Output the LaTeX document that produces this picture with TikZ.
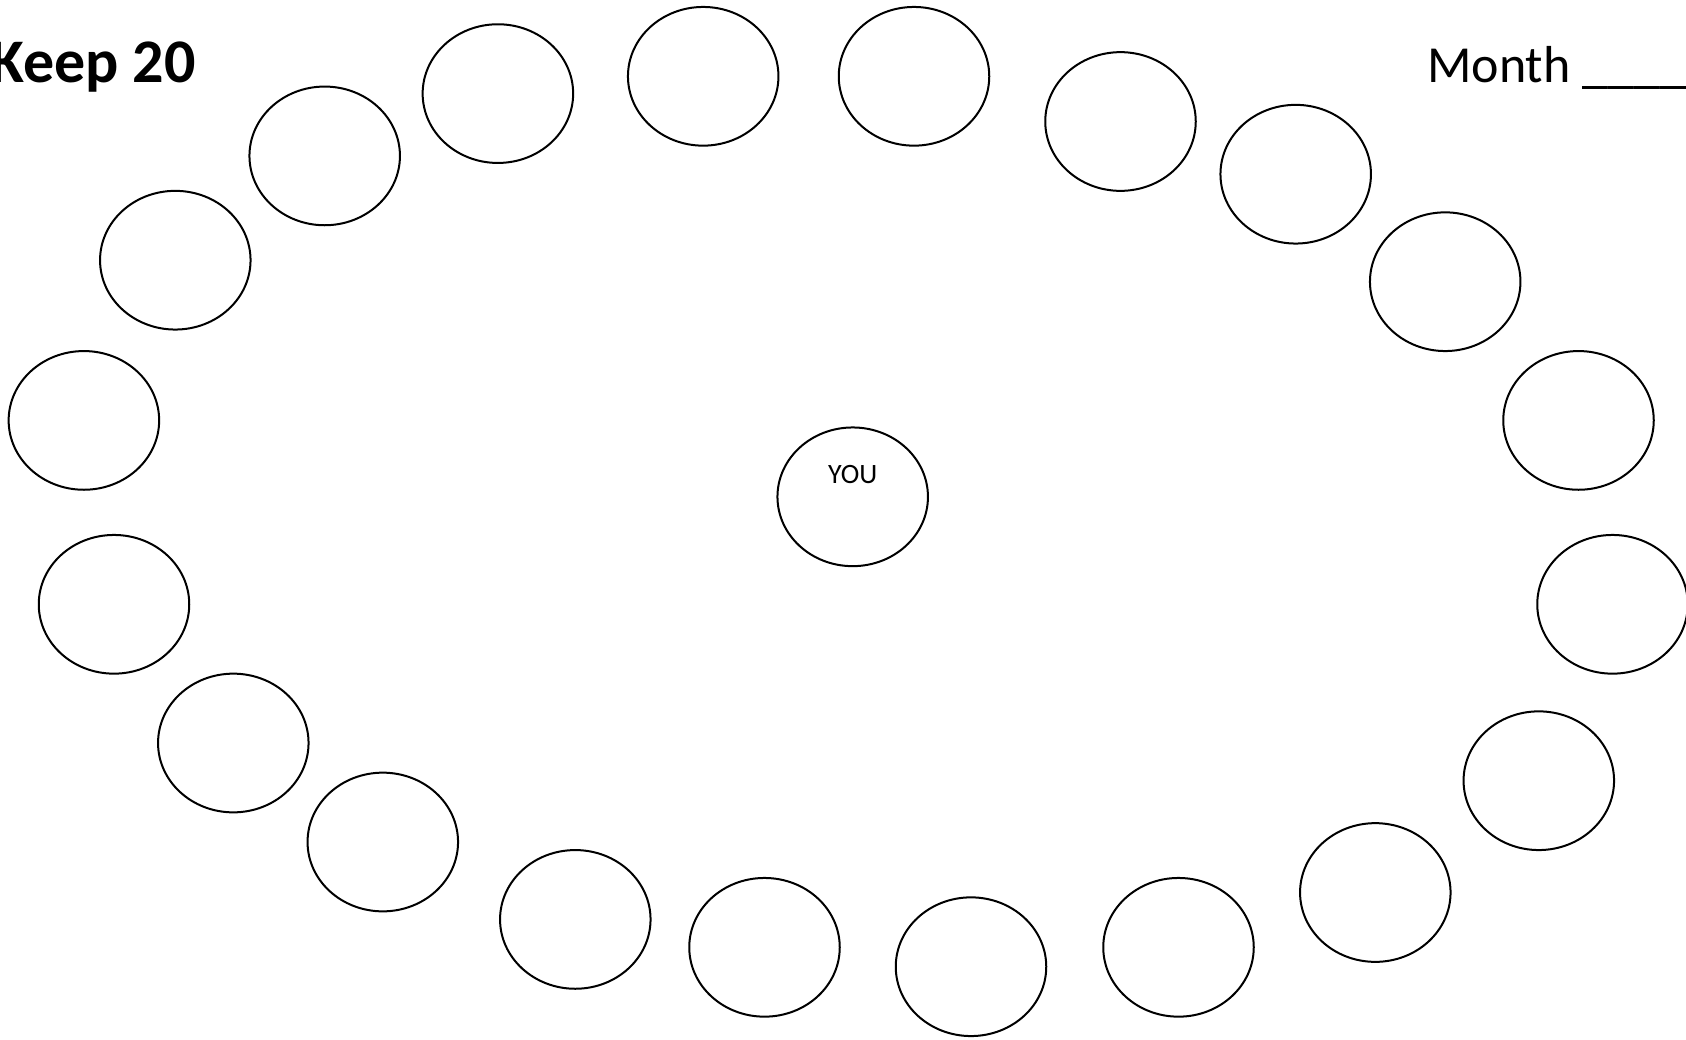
\documentclass[tikz,border=0pt]{standalone}
\usepackage{fontspec}
\setmainfont{Carlito}
\usetikzlibrary{shapes.geometric}
\begin{document}
\begin{tikzpicture}[x=1pt,y=-1pt,
  circ/.style={draw=black, line width=2pt, ellipse, minimum width=150.5pt, minimum height=138.7pt, inner sep=0pt},
  title/.style={inner sep=0pt, font=\fontsize{62}{74}\selectfont\bfseries},
  month/.style={inner sep=0pt, font=\fontsize{52}{62}\selectfont},
  youtext/.style={inner sep=0pt, font=\fontsize{28}{34}\selectfont}]
\useasboundingbox (0,0) rectangle (1686,1039);
\node[circ] (c1) at (497.9,93.6) {};
\node[circ] (c2) at (703.2,76.3) {};
\node[circ] (c3) at (914.0,76.3) {};
\node[circ] (c4) at (1120.5,121.5) {};
\node[circ] (c5) at (1295.7,174.2) {};
\node[circ] (c6) at (1445.2,281.7) {};
\node[circ] (c7) at (1578.5,420.4) {};
\node[circ] (c8) at (1612.5,604.3) {};
\node[circ] (c9) at (1538.8,780.7) {};
\node[circ] (c10) at (1375.3,892.5) {};
\node[circ] (c11) at (1178.5,947.3) {};
\node[circ] (c12) at (971.0,966.7) {};
\node[circ] (c13) at (764.5,947.3) {};
\node[circ] (c14) at (575.3,919.4) {};
\node[circ] (c15) at (382.8,842.0) {};
\node[circ] (c16) at (233.3,743.0) {};
\node[circ] (c17) at (114.0,604.3) {};
\node[circ] (c18) at (83.9,420.4) {};
\node[circ] (c19) at (175.3,260.2) {};
\node[circ] (c20) at (324.7,155.9) {};
\node[circ] (you) at (852.7,496.8) {};
\node[youtext] (youlabel) at (852.7,474.2) {YOU};
\node[title, anchor=base east] (keep) at (196,82) {Keep 20};
\node[month, anchor=base west] (monthlbl) at (1427,82) {Month \_\_\_\_\_\_\_};
\end{tikzpicture}
\end{document}
